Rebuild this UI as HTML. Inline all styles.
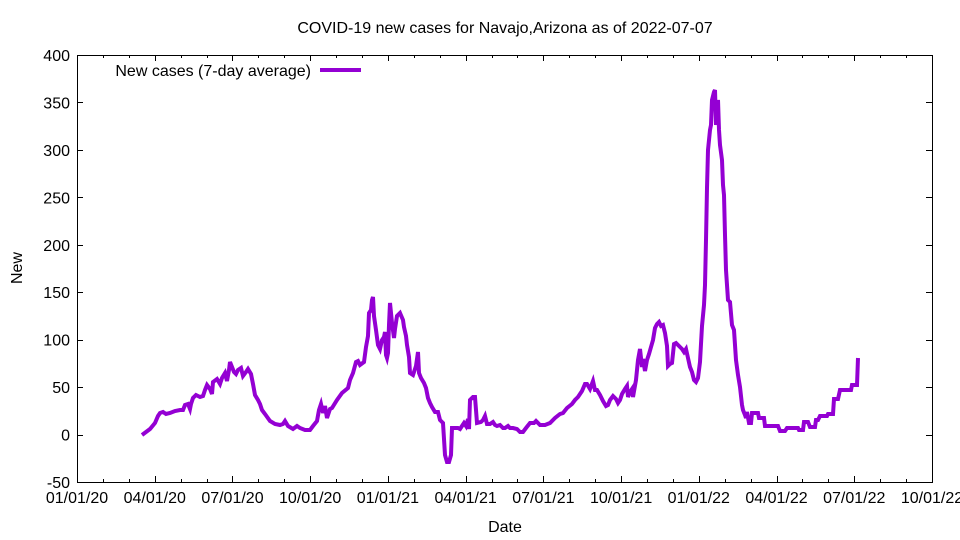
<!DOCTYPE html>
<html><head><meta charset="utf-8"><style>body{margin:0;background:#fff}svg{display:block}text{font-family:"Liberation Sans",sans-serif;font-size:16px;fill:#000}</style></head><body>
<svg width="960" height="540" xmlns="http://www.w3.org/2000/svg">
<rect x="77.5" y="55.5" width="855" height="427" fill="none" stroke="#000" stroke-width="1"/>
<g id="yt" stroke="#000" stroke-width="1"></g>
<g id="xt" stroke="#000" stroke-width="1"></g>
<g id="yl" text-anchor="end"></g>
<g id="xl" text-anchor="middle"></g>
<text x="505" y="33" text-anchor="middle">COVID-19 new cases for Navajo,Arizona as of 2022-07-07</text>
<text x="505" y="532" text-anchor="middle">Date</text>
<text x="22" y="268" text-anchor="middle" transform="rotate(-90 22 268)">New</text>
<text x="311" y="76" text-anchor="end">New cases (7-day average)</text>
<line x1="320" y1="70" x2="361" y2="70" stroke="#9400d3" stroke-width="4"/>
<polyline fill="none" stroke="#9400d3" stroke-width="4" stroke-linejoin="miter" points="142,435 150,429 155,423 158,416 160,413 163,412 166,414 170,413 175,411 180,410 183,410 185,405 188,404 190,409 191,404 193,398 196,395 200,397 203,396 205,390 207,385 210,389 212,394 213,382 217,379 220,384 222,378 225,373 227,381 229,370 230,362 234,372 236,374 238,370 241,368 243,376 246,372 248,369 251,374 253,384 255,395 258,400 260,404 262,410 265,414 270,421 275,424 280,425 283,424 285,421 288,426 293,429 297,426 300,428 305,430 310,430 313,426 317,421 319,410 321,404 323,413 325,406 327,418 330,409 332,408 337,400 342,393 348,388 350,380 353,373 356,362 358,361 360,365 364,362 366,347 368,336 369,313 371,310 372,300 373,297 374,316 376,330 378,345 380,349 382,340 384,337 385,332 386,355 387,358 388,353 389,325 390,303 392,323 394,338 395,329 397,316 400,313 403,320 404,327 406,336 407,345 409,357 410,373 413,375 416,366 418,352 419,373 421,378 424,383 426,388 428,398 430,403 432,407 435,412 438,412 440,420 443,423 445,455 447,462 449,462 451,455 452,428 455,428 458,428 460,429 462,426 464,423 466,426 468,419 469,429 470,400 473,397 475,397 477,423 481,422 483,420 485,416 487,424 490,424 493,422 495,425 497,426 500,425 503,428 505,428 508,426 510,428 513,428 517,429 520,432 523,432 526,428 530,423 534,423 536,421 540,425 545,425 550,423 555,418 560,414 563,413 567,408 572,404 575,400 578,397 582,391 585,384 587,384 590,389 593,381 595,390 597,390 600,395 603,401 606,406 608,405 610,400 613,396 616,399 618,403 620,400 622,394 625,389 627,386 628,397 630,392 632,389 633,397 636,380 638,360 640,349 642,367 643,359 645,371 647,360 649,354 651,347 653,340 655,328 657,324 659,322 661,326 663,325 665,333 667,346 668,366 670,364 672,363 674,344 676,343 678,345 682,349 684,352 686,349 688,358 690,367 692,372 694,380 696,382 698,378 700,362 702,326 704,305 705,285 706,240 707,188 708,150 710,130 711,125 712,100 714,92 715,90 716,125 718,100 719,130 720,145 722,160 723,185 724,195 725,235 726,270 728,300 730,302 732,325 734,330 736,360 738,375 740,387 742,405 743,410 745,415 746,418 747,412 749,423 751,423 752,413 758,413 759,418 764,418 765,426 778,426 780,431 785,431 787,428 798,428 799,430 803,430 804,422 808,422 810,427 815,427 816,420 818,420 820,416 827,416 828,414 833,414 834,399 838,399 840,390 851,390 852,385 857,385 858,358"/>
<script>
var ns="http://www.w3.org/2000/svg";
function el(g,t,a,txt){var e=document.createElementNS(ns,t);for(var k in a)e.setAttribute(k,a[k]);if(txt)e.textContent=txt;document.getElementById(g).appendChild(e);}
for(var v=-50;v<=400;v+=50){var y=55+(400-v)*427/450;var yy=Math.round(y)+0.5;
el("yt","line",{x1:77,y1:yy,x2:83,y2:yy});el("yt","line",{x1:926,y1:yy,x2:932,y2:yy});
el("yl","text",{x:70,y:y+6},String(v));}
var labs=["01/01/20","04/01/20","07/01/20","10/01/20","01/01/21","04/01/21","07/01/21","10/01/21","01/01/22","04/01/22","07/01/22","10/01/22"];
for(var i=0;i<=33;i++){var x=Math.round(77+i*855/33)+0.5;var L=(i%3==0)?6:3;
el("xt","line",{x1:x,y1:482,x2:x,y2:482-L});el("xt","line",{x1:x,y1:55,x2:x,y2:55+L});}
for(var j=0;j<12;j++){el("xl","text",{x:77+j*855/11,y:503},labs[j]);}
</script>
</svg></body></html>
